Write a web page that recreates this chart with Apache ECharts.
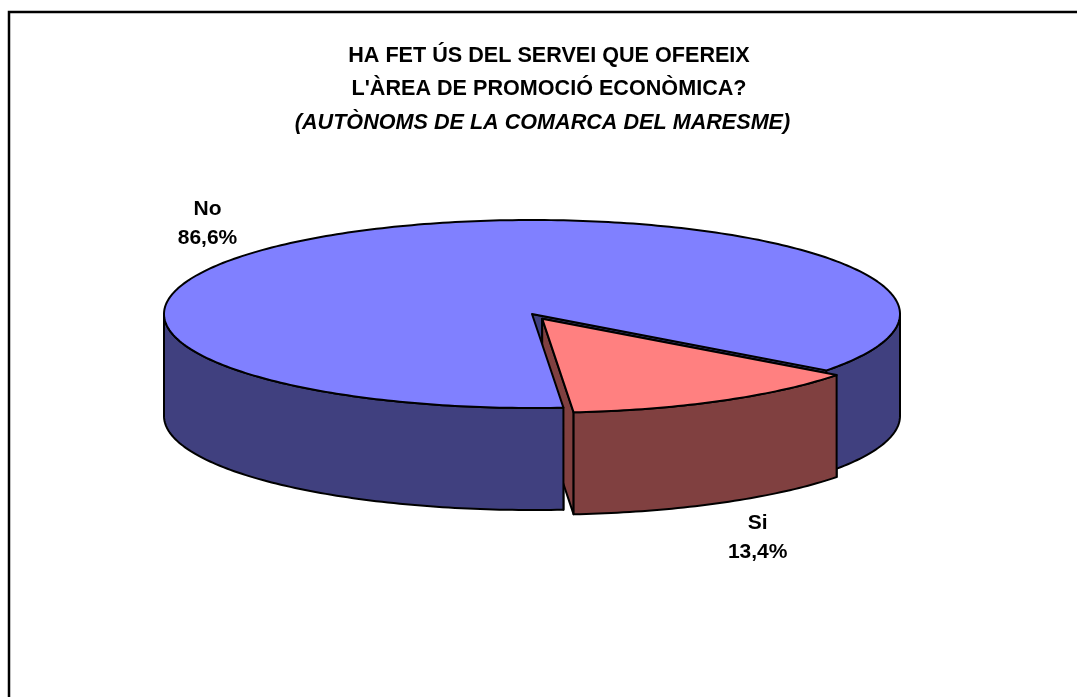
<!DOCTYPE html>
<html>
<head>
<meta charset="utf-8">
<script src="https://cdn.jsdelivr.net/npm/echarts@6/dist/echarts.min.js"></script>
<style>
  html, body { margin: 0; padding: 0; background: #fff; }
  #chart { width: 1077px; height: 697px; }
</style>
</head>
<body>
<div id="chart"></div>
<script>
// data
const categories = ['No', 'Si'];
const percents = [86.6, 13.4];
const titleLines = ['HA FET ÚS DEL SERVEI QUE OFEREIX', "L'ÀREA DE PROMOCIÓ ECONÒMICA?"];
const subtitle = '(AUTÒNOMS DE LA COMARCA DEL MARESME)';

// look of the 3d pie
const topColors = ['#8080ff', '#ff8080'];
const sideColors = ['#40407f', '#804040'];
const explode = [0, 0.057];
const labelOffsets = [[-146, -8], [37, 137]];
const cx = 532, cy = 314, rx = 368, ry = 94, depth = 102;
const startAngle = 85.1; // degrees, clockwise from 3 o'clock
const FONT = 'Liberation Sans, Arial, sans-serif';

const total = percents.reduce((a, b) => a + b, 0);
const rad = d => d * Math.PI / 180;
const fmt = v => v.toFixed(1).replace('.', ',') + '%';

// points along the ellipse rim between two angles
function arc(ox, oy, a0, a1, dy) {
  const pts = [];
  const n = Math.max(2, Math.ceil(Math.abs(a1 - a0)));
  for (let k = 0; k <= n; k++) {
    const a = rad(a0 + (a1 - a0) * k / n);
    pts.push([ox + rx * Math.cos(a), oy + ry * Math.sin(a) + dy]);
  }
  return pts;
}

function renderItem(params, api) {
  const i = params.dataIndex;
  let a0 = startAngle;
  for (let k = 0; k < i; k++) a0 += percents[k] / total * 360;
  const a1 = a0 + api.value(1) / total * 360;
  const mid = rad((a0 + a1) / 2);
  const ox = cx + explode[i] * rx * Math.cos(mid);
  const oy = cy + explode[i] * ry * Math.sin(mid);
  const edge = { stroke: '#000', lineWidth: 2, lineJoin: 'round' };
  const children = [];

  // cut faces
  [a0, a1].forEach(a => {
    const px = ox + rx * Math.cos(rad(a)), py = oy + ry * Math.sin(rad(a));
    children.push({
      type: 'polygon', z2: 1 + i,
      shape: { points: [[ox, oy], [px, py], [px, py + depth], [ox, oy + depth]] },
      style: Object.assign({ fill: sideColors[i] }, edge)
    });
  });

  // outer wall, only the front half shows
  for (let base = 0; base <= 720; base += 360) {
    const s = Math.max(a0, base), e = Math.min(a1, base + 180);
    if (e > s) {
      const pts = arc(ox, oy, s, e, 0).concat(arc(ox, oy, e, s, depth));
      children.push({
        type: 'polygon', z2: 10 + i,
        shape: { points: pts },
        style: Object.assign({ fill: sideColors[i] }, edge)
      });
    }
  }

  // top face
  children.push({
    type: 'polygon', z2: 20 + i,
    shape: { points: [[ox, oy]].concat(arc(ox, oy, a0, a1, 0)) },
    style: Object.assign({ fill: topColors[i] }, edge)
  });

  // label
  children.push({
    type: 'text', z2: 30,
    x: ox + rx * Math.cos(mid) + labelOffsets[i][0],
    y: oy + ry * Math.sin(mid) + labelOffsets[i][1],
    style: {
      text: categories[i] + '\n' + fmt(api.value(1)),
      align: 'center', verticalAlign: 'middle',
      fontFamily: FONT, fontWeight: 'bold', fontSize: 21, lineHeight: 29,
      fill: '#000'
    }
  });

  return { type: 'group', children: children };
}

const chart = echarts.init(document.getElementById('chart'));

const titleStyle = (text, italic) => ({
  text: text, align: 'center', verticalAlign: 'middle',
  fontFamily: FONT, fontWeight: 'bold', fontSize: 21.6,
  fontStyle: italic ? 'italic' : 'normal', fill: '#000'
});

chart.setOption({
  animation: false,
  backgroundColor: '#fff',
  graphic: [
    { type: 'rect', shape: { x: 9, y: 12, width: 1200, height: 800 },
      style: { fill: 'none', stroke: '#000', lineWidth: 2.5 } },
    { type: 'text', x: 549, y: 56, style: titleStyle(titleLines[0], false) },
    { type: 'text', x: 549, y: 89.5, style: titleStyle(titleLines[1], false) },
    { type: 'text', x: 542.5, y: 123, style: titleStyle(subtitle, true) }
  ],
  series: [{
    type: 'custom',
    coordinateSystem: 'none',
    renderItem: renderItem,
    data: percents.map((v, i) => [i, v])
  }]
});
</script>
</body>
</html>
